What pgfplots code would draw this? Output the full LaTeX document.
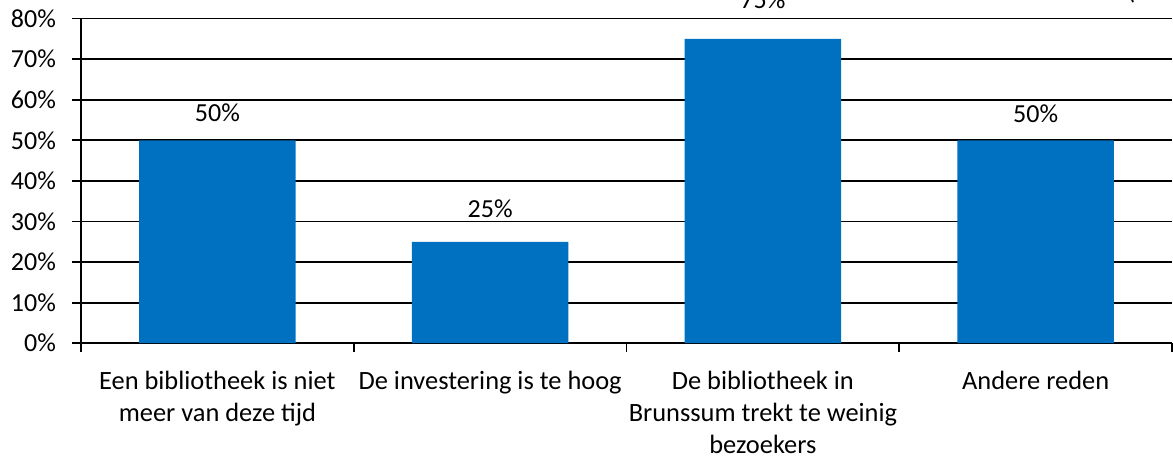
\documentclass[border=0pt]{standalone}
\usepackage{pgfplots}
\pgfplotsset{compat=1.18}
\usepackage{fontspec}
\setmainfont{Carlito}
\usetikzlibrary{calc}
\definecolor{barblue}{HTML}{0070C0}
\begin{document}
\begin{tikzpicture}
\fontsize{13}{15.8}\selectfont
\begin{axis}[
  scale only axis, width=545.5pt, height=162.3pt,
  xmin=-0.5, xmax=3.5, ymin=0, ymax=80,
  axis lines*=left,
  axis line style={black, line width=0.9pt},
  ytick={0,10,20,30,40,50,60,70,80},
  yticklabels={0\%,10\%,20\%,30\%,40\%,50\%,60\%,70\%,80\%},
  ymajorgrids, grid style={black, line width=0.9pt},
  xtick={0,1,2,3},
  xticklabels={Een bibliotheek is niet\\meer van deze tijd, De investering is te hoog, De bibliotheek in\\Brunssum trekt te weinig\\bezoekers, Andere reden},
  major x tick style={draw=none},
  minor xtick={-0.5,0.5,1.5,2.5,3.5},
  minor x tick style={black, line width=0.9pt},
  y tick style={black, line width=0.9pt},
  tick align=outside, major tick length=4.5pt, minor tick length=4.5pt,
  xticklabel style={align=center, font=\fontsize{13.2}{15.9}\selectfont, text depth=0pt, yshift=-5pt},
  yticklabel style={font=\fontsize{13}{15.8}\selectfont, xshift=-3.5pt},
  /pgf/number format/assume math mode=true,
  ybar, bar width=0.574,
  point meta=explicit,
  nodes near coords={\pgfmathprintnumber{\pgfplotspointmeta}\%},
  visualization depends on={value \thisrow{off}\as\labeloff},
  every node near coord/.append style={font=\fontsize{13}{15.8}\selectfont, anchor=south, inner sep=0pt, yshift=\labeloff pt},
  clip=false,
]
\addplot[fill=barblue, draw=none] table[x=x, y=y, meta=y] {
x y off
0 50 9
1 25 12
2 75 15
3 50 8.5
};
\coordinate (bl) at (rel axis cs:0,0);
\coordinate (tr) at (rel axis cs:1,1);
\end{axis}
\node[anchor=base west, inner sep=0pt] at ($(tr)+(-22.5pt,9.3pt)$) {(};
\pgfresetboundingbox
\path[use as bounding box] ($(bl)+(-40.5pt,-56.8pt)$) rectangle ($(tr)+(0.5pt,9.3pt)$);
\end{tikzpicture}
\end{document}
